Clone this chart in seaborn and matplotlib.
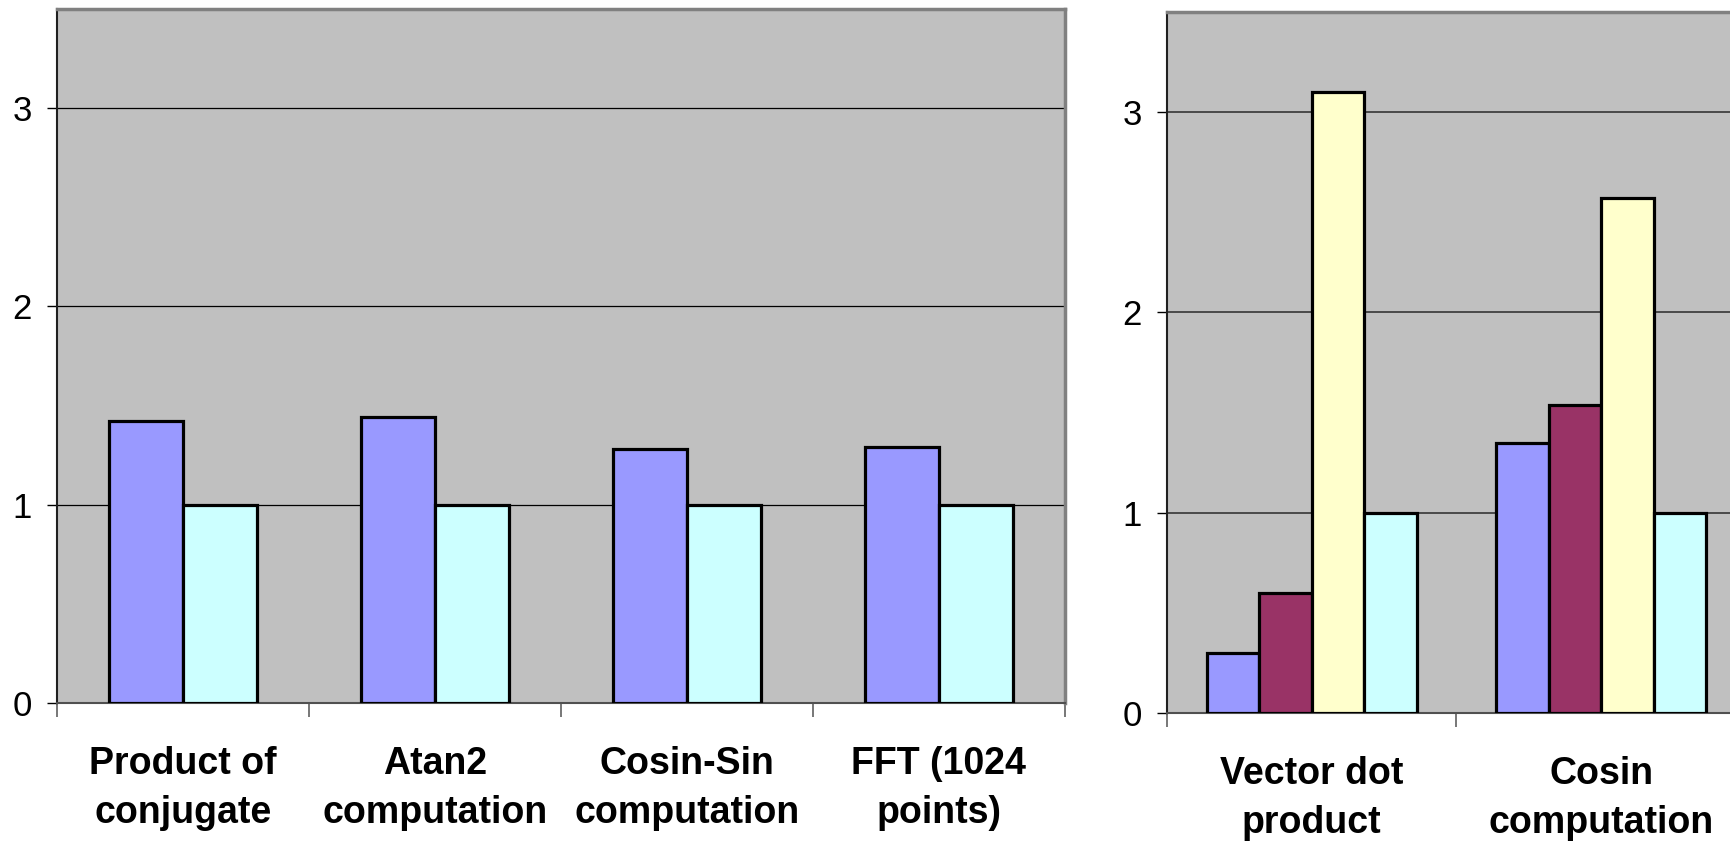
import numpy as np
import pandas as pd
import matplotlib
matplotlib.use("Agg")
import matplotlib.pyplot as plt
import seaborn as sns

# ---- data -------------------------------------------------------------
left_categories = ["Product of\nconjugate", "Atan2\ncomputation",
                   "Cosin-Sin\ncomputation", "FFT (1024\npoints)"]
left_series = ["Version A", "Version B"]
left_a = [1.42, 1.44, 1.28, 1.29]
left_b = [1.00, 1.00, 1.00, 1.00]

right_categories = ["Vector dot\nproduct", "Cosin\ncomputation"]
right_series = ["Version A", "Version C", "Version D", "Version B"]
right_a = [0.30, 1.35]
right_c = [0.60, 1.54]
right_d = [3.10, 2.57]
right_b = [1.00, 1.00]

y_ticks = [0, 1, 2, 3]

series_colors = {"Version A": "#9999FF", "Version B": "#CCFFFF",
                 "Version C": "#993366", "Version D": "#FFFFCC"}


def long_frame(categories, series, columns):
    rows = []
    for name, values in zip(series, columns):
        for cat, v in zip(categories, values):
            rows.append({"benchmark": cat, "series": name, "ratio": v})
    return pd.DataFrame(rows)


left_df = long_frame(left_categories, left_series, [left_a, left_b])
right_df = long_frame(right_categories, right_series,
                      [right_a, right_c, right_d, right_b])

# ---- style ------------------------------------------------------------
sns.set_style("white")
plt.rcParams["font.family"] = ["Liberation Sans", "DejaVu Sans"]
plt.rcParams["text.color"] = "black"
plt.rcParams["xtick.labelcolor"] = "black"
plt.rcParams["ytick.labelcolor"] = "black"

W, H = 1731, 842
fig = plt.figure(figsize=(W / 100, H / 100), dpi=100)


def px_axes(x0, y0, x1, y1):
    """Axes from pixel box (top-left origin)."""
    return fig.add_axes([x0 / W, 1 - y1 / H, (x1 - x0) / W, (y1 - y0) / H])


ax_left = px_axes(57, 9, 1065, 703)
ax_right = px_axes(1167, 12, 1746, 713)


def draw_panel(ax, df, categories, series, bar_width, grid_color, grid_lw):
    sns.barplot(data=df, x="benchmark", y="ratio", hue="series",
                order=categories, hue_order=series,
                palette=series_colors, saturation=1, width=bar_width,
                errorbar=None, edgecolor="black", linewidth=2.3,
                legend=False, ax=ax, zorder=3)
    n = len(categories)
    ax.set_facecolor("#C0C0C0")
    ax.set_xlim(-0.5, n - 0.5)
    ax.set_ylim(0, 3.5)
    ax.set_axisbelow(True)
    ax.set_xlabel("")
    ax.set_ylabel("")

    # value axis
    ax.set_yticks(y_ticks)
    ax.set_yticklabels([str(t) for t in y_ticks], color="black")
    ax.yaxis.grid(True, color=grid_color, linewidth=grid_lw, zorder=0)
    ax.tick_params(axis="y", which="major", left=True, length=7, width=1,
                   color="black", pad=11, labelsize=25, labelcolor="black")

    # category axis: labels centred, tick marks between categories
    ax.set_xticks(np.arange(n))
    ax.set_xticklabels(categories, fontweight="bold", fontsize=27,
                       linespacing=1.48, color="black")
    ax.set_xticks(np.arange(n + 1) - 0.5, minor=True)
    ax.tick_params(axis="x", which="major", length=0, pad=31)
    ax.tick_params(axis="x", which="minor", bottom=True, length=10,
                   width=1.2, color="#606060")

    for side in ("top", "right"):
        ax.spines[side].set_visible(True)
        ax.spines[side].set_color("#808080")
        ax.spines[side].set_linewidth(2.5)
    ax.spines["left"].set_color("#202020")
    ax.spines["left"].set_linewidth(1.5)
    ax.spines["bottom"].set_color("#505050")
    ax.spines["bottom"].set_linewidth(1.5)


draw_panel(ax_left, left_df, left_categories, left_series, 0.587,
           "black", 0.9)
draw_panel(ax_right, right_df, right_categories, right_series, 0.724,
           "#404040", 1.3)

fig.savefig("out.png", dpi=100)
